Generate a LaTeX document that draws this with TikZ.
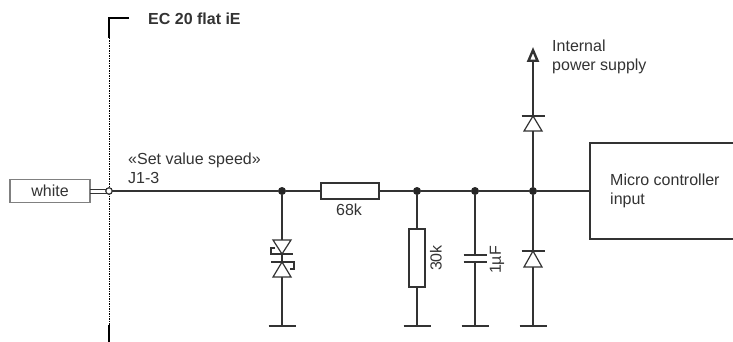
\documentclass[tikz,border=0pt]{standalone}
\usepackage{fontspec}
\setmainfont{Liberation Sans}
\usetikzlibrary{arrows.meta}
\definecolor{inkgrey}{HTML}{333333}
\tikzset{
  wire/.style={draw=inkgrey, line width=1.2pt},
  heavy/.style={draw=black, line width=2pt},
  part/.style={draw=inkgrey, line width=1.2pt, fill=white, inner sep=0pt, outer sep=0pt},
  junct/.style={circle, fill=black!85, inner sep=0pt, outer sep=0pt, minimum size=8pt},
  lbl/.style={text=inkgrey, inner sep=0pt, font=\fontsize{16}{18.5}\selectfont},
}
\begin{document}
\begin{tikzpicture}[x=1pt,y=-1pt]
\useasboundingbox (0,0) rectangle (733,342);
\coordinate (bktR) at (129,18);
\coordinate (bktC) at (109,18);
\coordinate (bktT) at (109,38);
\coordinate (bktB) at (109,325);
\coordinate (bktE) at (109,342);
\draw[heavy] (bktR) -- (bktC) -- (bktT);
\draw[black, line width=1pt, dash pattern=on 1.5pt off 1pt] (bktT) -- (bktB);
\draw[heavy] (bktB) -- (bktE);
\node[lbl, anchor=west, font=\fontsize{16}{18}\selectfont\bfseries] (title) at (148,19) {EC 20 flat iE};

\node[part, draw=gray, minimum width=80pt, minimum height=23pt, anchor=north west] (white) at (10,179.5) {};
\node[lbl] (whitetxt) at (white.center) {white};
\node[part, circle, minimum size=6.5pt] (pin) at (109,191) {};
\draw[wire, line width=1pt] ([yshift=-2pt]white.east) -- ([yshift=-2pt]pin.west);
\draw[wire, line width=1pt] ([yshift=2pt]white.east) -- ([yshift=2pt]pin.west);
\node[lbl, anchor=west] (setval) at (128,160) {«Set value speed»};
\node[lbl, anchor=west] (jthree) at (128,178) {J1-3};

\node[junct] (j1) at (282,191) {};
\node[junct] (j2) at (417,191) {};
\node[junct] (j3) at (475,191) {};
\node[junct] (j4) at (533,191) {};
\node[part, minimum width=58pt, minimum height=16pt] (r68) at (350,191) {};
\node[part, minimum width=16pt, minimum height=58pt] (r30) at (417,258) {};
\node[lbl] (l68) at (349,210) {68k};
\node[lbl, rotate=90] (l30) at (436,258) {30k};
\node[lbl, rotate=90] (l1u) at (497,260) {1µF};
\node[part, minimum width=143pt, minimum height=96pt, anchor=north west, draw=none] (mcu) at (590,143) {};
\draw[wire] (mcu.north east) -- (mcu.north west) -- (mcu.south west) -- (mcu.south east);
\node[lbl, anchor=west, align=left] (mcutxt) at (610,191) {Micro controller\\input};
\node[lbl, anchor=west, align=left] (supply) at (552,57) {Internal\\power supply};

\draw[wire] (pin) -- (j1) -- (r68) -- (j2) -- (j3) -- (j4) -- (mcu.west);

\foreach \gname/\gx in {g1/282, g2/417, g3/475, g4/533} {
  \coordinate (\gname) at (\gx,326);
  \draw[wire] ([xshift=-13.5pt]\gname) -- ([xshift=13.5pt]\gname);
}
\draw[wire] (j2) -- (r30);
\draw[wire] (r30) -- (g2);

\coordinate (zA) at (282,240);
\coordinate (zB) at (282,254);
\coordinate (zC) at (282,262);
\coordinate (zD) at (282,277);
\draw[wire] (j1) -- (zA);
\draw[wire] (zD) -- (g1);
\draw[wire] (zB) -- (zC);
\draw[wire, line join=miter] (273,240) -- (291,240) -- (zB) -- cycle;
\draw[wire, line join=miter] (273,277) -- (291,277) -- (zC) -- cycle;
\draw[wire] (275,248) -- (271,248) -- (271,254) -- (293,254);
\draw[wire] (271,262) -- (294,262) -- (294,269) -- (290,269);

\coordinate (cA) at (475,255);
\coordinate (cB) at (475,262);
\draw[wire] (j3) -- (cA);
\draw[wire] (cB) -- (g3);
\draw[wire] ([xshift=-11.5pt]cA) -- ([xshift=11.5pt]cA);
\draw[wire] ([xshift=-11.5pt]cB) -- ([xshift=11.5pt]cB);

\coordinate (dlA) at (533,251);
\coordinate (dlB) at (533,267);
\draw[wire] (j4) -- (dlA);
\draw[wire] (dlB) -- (g4);
\draw[wire] ([xshift=-11.5pt]dlA) -- ([xshift=11.5pt]dlA);
\draw[wire, line join=miter] (524,267) -- (542,267) -- (dlA) -- cycle;

\coordinate (duA) at (533,116);
\coordinate (duB) at (533,131);
\coordinate (tip) at (533,47);
\draw[wire] (j4) -- (duB);
\draw[wire, -{Triangle[open, length=15pt, width=12pt, line width=2.4pt]}] (duA) -- (tip);
\draw[wire] ([xshift=-11.5pt]duA) -- ([xshift=11.5pt]duA);
\draw[wire, line join=miter] (524,131) -- (542,131) -- (duA) -- cycle;
\end{tikzpicture}
\end{document}
